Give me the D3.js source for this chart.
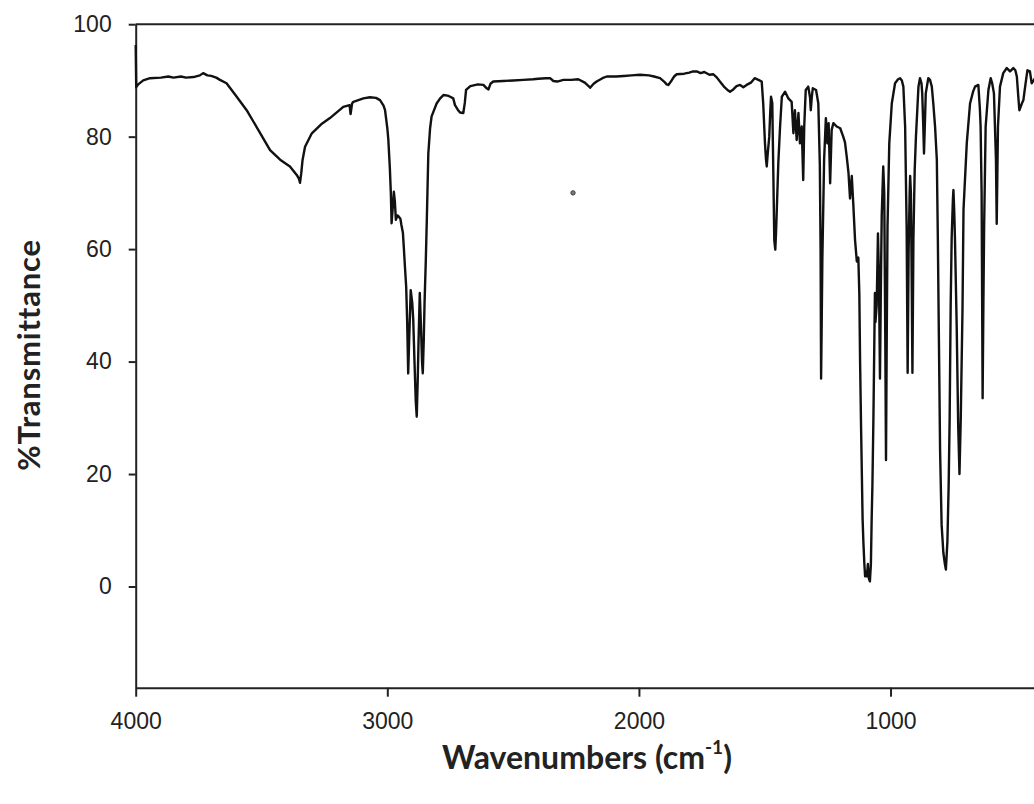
<!DOCTYPE html>
<meta charset="utf-8">
<script src="https://d3js.org/d3.v7.min.js"></script>
<style>
  body { margin: 0; background: #fff; }
</style>
<svg id="chart" width="1034" height="804"></svg>
<script>

  // IR spectrum: wavenumber (cm-1) and %T
  var wavenumber = [
    4000, 3998, 3990, 3970, 3943, 3900, 3870, 3850, 3820, 3800, 3770, 3745, 3732, 3715, 3700, 3680, 3665, 3639,
    3600, 3559, 3510, 3466, 3426, 3387, 3360, 3352, 3347, 3342, 3337, 3327, 3300, 3260, 3228, 3175, 3150, 3146,
    3140, 3135, 3095, 3069, 3045, 3029, 3015, 3009, 3000, 2996, 2990, 2986, 2983, 2979, 2974, 2970, 2966, 2960,
    2955, 2948, 2944, 2938, 2934, 2930, 2925, 2921, 2917, 2913, 2907, 2901, 2897, 2892, 2887, 2883, 2879, 2876,
    2871, 2866, 2862, 2859, 2855, 2852, 2847, 2843, 2837, 2830, 2824, 2804, 2790, 2777, 2760, 2750, 2738, 2731,
    2720, 2711, 2698, 2692, 2687, 2670, 2640, 2618, 2605, 2598, 2590, 2579, 2540, 2500, 2459, 2420, 2400, 2370,
    2353, 2340, 2325, 2300, 2270, 2241, 2215, 2200, 2194, 2180, 2168, 2145, 2128, 2090, 2060, 2030, 1996, 1960,
    1940, 1916, 1900, 1890, 1883, 1870, 1860, 1850, 1820, 1800, 1785, 1770, 1755, 1740, 1720, 1704, 1690, 1678,
    1660, 1645, 1638, 1625, 1612, 1598, 1585, 1572, 1555, 1540, 1525, 1512, 1506, 1499, 1495, 1492, 1488, 1482,
    1478, 1475, 1470, 1466, 1462, 1458, 1455, 1452, 1446, 1439, 1432, 1419, 1406, 1393, 1386, 1380, 1373, 1366,
    1360, 1353, 1347, 1343, 1337, 1327, 1320, 1317, 1313, 1309, 1296, 1287, 1281, 1278, 1276, 1274, 1271, 1264,
    1257, 1251, 1246, 1240, 1234, 1227, 1214, 1200, 1188, 1181, 1174, 1167, 1161, 1154, 1148, 1141, 1134, 1128,
    1124, 1121, 1117, 1114, 1111, 1108, 1104, 1101, 1097, 1094, 1090, 1086, 1082, 1078, 1075, 1072, 1068, 1064,
    1062, 1060, 1055, 1050, 1046, 1042, 1038, 1035, 1029, 1025, 1021, 1018, 1015, 1012, 1005, 995, 982, 970,
    962, 955, 949, 942, 936, 932, 928, 924, 922, 919, 916, 913, 909, 904, 899, 889, 883, 877, 874, 870, 867,
    863, 860, 850, 843, 836, 830, 823, 816, 812, 808, 803, 797, 790, 784, 780, 774, 769, 765, 761, 757, 752,
    750, 747, 744, 737, 731, 726, 721, 714, 710, 697, 684, 672, 664, 651, 645, 642, 638, 634, 631, 628, 622,
    611, 602, 596, 589, 581, 578, 573, 565, 552, 538, 525, 512, 504, 498, 492, 488, 478, 472, 465, 456, 446,
    439, 430, 420, 410, 400
  ];
  var transmittance = [
    96.3, 88.8, 89.3, 90.0, 90.4, 90.5, 90.7, 90.5, 90.7, 90.5, 90.6, 90.9, 91.3, 90.9, 90.8, 90.5, 90.1, 89.5,
    87.2, 84.7, 81.0, 77.6, 75.9, 74.7, 73.2, 72.6, 71.8, 73.5, 75.8, 78.2, 80.6, 82.3, 83.3, 85.3, 85.6, 84.0,
    85.9, 86.2, 86.8, 87.0, 86.9, 86.5, 85.5, 84.7, 81.5, 79.5, 74.5, 70.0, 64.6, 67.0, 70.2, 68.5, 65.2, 66.0,
    65.8, 65.4, 64.3, 62.9, 60.0, 56.9, 53.3, 47.0, 37.9, 44.0, 52.7, 50.5, 47.5, 40.0, 33.0, 30.2, 37.0, 43.3,
    52.2, 46.0, 40.0, 37.9, 44.0, 50.4, 58.0, 65.2, 77.0, 81.5, 83.6, 85.9, 86.8, 87.4, 87.3, 87.1, 86.8, 85.6,
    84.8, 84.3, 84.2, 86.0, 88.3, 89.0, 89.3, 89.2, 88.6, 88.4, 89.4, 89.8, 89.9, 90.0, 90.1, 90.2, 90.3, 90.4,
    90.4, 89.9, 89.8, 90.1, 90.1, 90.2, 89.6, 89.0, 88.7, 89.4, 89.8, 90.4, 90.7, 90.7, 90.8, 90.9, 91.0, 90.9,
    90.7, 90.4, 89.8, 89.3, 89.2, 90.0, 90.7, 91.1, 91.2, 91.4, 91.6, 91.6, 91.3, 91.5, 91.0, 91.1, 90.5, 89.8,
    88.8, 88.2, 88.0, 88.4, 89.0, 89.2, 88.8, 89.2, 89.6, 90.4, 90.1, 89.8, 85.9, 78.8, 76.0, 74.7, 77.0, 80.0,
    84.5, 87.1, 86.0, 74.1, 61.6, 59.9, 63.0, 67.0, 75.3, 81.8, 87.1, 88.0, 86.8, 86.2, 80.6, 84.7, 79.4, 84.2,
    78.8, 81.8, 72.3, 81.8, 88.3, 88.9, 87.0, 84.7, 87.0, 88.6, 88.3, 85.9, 75.0, 60.0, 37.0, 45.0, 58.1, 75.9,
    83.3, 78.8, 82.4, 71.7, 81.2, 82.4, 81.8, 81.5, 80.0, 79.0, 76.4, 73.5, 69.0, 73.0, 68.0, 61.6, 57.8, 58.5,
    52.0, 40.0, 28.0, 20.0, 12.0, 8.0, 4.0, 1.8, 2.6, 1.8, 4.0, 1.4, 0.9, 4.0, 12.0, 18.0, 30.0, 45.0,
    52.2, 47.0, 50.0, 62.8, 55.0, 37.0, 55.0, 66.0, 74.7, 70.0, 45.0, 22.5, 45.0, 64.0, 78.8, 85.9, 89.5, 90.2,
    90.4, 90.0, 88.9, 81.8, 64.0, 38.0, 60.0, 69.9, 73.0, 69.9, 55.0, 38.0, 62.0, 74.0, 80.0, 88.9, 90.4, 89.5, 87.7, 82.0, 77.0,
    83.0, 87.7, 90.4, 90.1, 88.9, 85.9, 81.8, 75.9, 62.0, 45.0, 24.0, 11.0, 6.0, 4.0, 3.0, 8.0, 18.0, 30.0, 50.0, 62.0, 69.0,
    70.5, 67.0, 62.0, 46.2, 28.4, 20.0, 29.6, 49.2, 67.0, 78.8, 85.9, 88.0, 88.9, 89.2, 85.0, 81.8, 69.9, 33.5, 50.0, 64.0, 81.8,
    88.3, 90.4, 89.5, 87.7, 75.9, 64.5, 81.8, 88.9, 91.3, 92.2, 91.6, 92.2, 91.8, 90.7, 87.0, 84.7, 85.9, 86.5, 88.9, 91.8, 91.6,
    89.5, 90.1, 90.8, 90.5, 90.6
  ];

  // a speck on the scan, kept as a point
  var specks = [[2262, 70]];

  var xTicks = [4000, 3000, 2000, 1000];
  var yTicks = [0, 20, 40, 60, 80, 100];

  var svg = d3.select("#chart"),
      width = +svg.attr("width"),
      height = +svg.attr("height");

  var x = d3.scaleLinear().domain([4000, 400]).range([135.7, 1041.5]);
  var y = d3.scaleLinear().domain([-18, 100]).range([687.7, 24.2]);

  var data = wavenumber.map(function(w, i) { return [w, transmittance[i]]; });

  // frame: top line
  svg.append("line")
      .attr("x1", x(4000)).attr("x2", width + 10)
      .attr("y1", y(100)).attr("y2", y(100))
      .style("stroke", "#222").style("stroke-width", 2);

  // x axis
  var gx = svg.append("g")
      .attr("transform", "translate(0," + y(-18) + ")")
      .call(d3.axisBottom(x).tickValues(xTicks).tickFormat(d3.format("d"))
          .tickSize(9).tickPadding(16).tickSizeOuter(0));

  // y axis
  var gy = svg.append("g")
      .attr("transform", "translate(" + x(4000) + ",0)")
      .call(d3.axisLeft(y).tickValues(yTicks).tickFormat(d3.format("d"))
          .tickSize(7).tickPadding(17).tickSizeOuter(0));

  [gx, gy].forEach(function(g) {
    g.select(".domain").style("stroke", "#222").style("stroke-width", 2);
    g.selectAll(".tick line").style("stroke", "#222").style("stroke-width", 2);
    g.selectAll(".tick text")
        .style("font-family", "'Liberation Sans', Arial, sans-serif")
        .style("font-size", "23px")
        .style("fill", "#222");
  });

  // spectrum
  svg.append("path")
      .datum(data)
      .attr("d", d3.line()
          .x(function(d) { return x(d[0]); })
          .y(function(d) { return y(d[1]); }))
      .style("fill", "none")
      .style("stroke", "#111")
      .style("stroke-width", 2.4)
      .style("stroke-linejoin", "round");

  svg.selectAll(".speck")
      .data(specks)
      .enter().append("circle")
        .attr("class", "speck")
        .attr("cx", function(d) { return x(d[0]); })
        .attr("cy", function(d) { return y(d[1]); })
        .attr("r", 2.2)
        .style("fill", "#777")
        .style("stroke", "#444")
        .style("stroke-width", 1);

  // axis titles
  var xt = svg.append("text")
      .attr("x", 587)
      .attr("y", 769)
      .attr("text-anchor", "middle")
      .style("font-family", "Lato, 'Open Sans', sans-serif")
      .style("font-weight", "bold")
      .style("font-size", "32px")
      .style("fill", "#222");
  xt.append("tspan").text("Wavenumbers (cm");
  xt.append("tspan").attr("dy", -15).style("font-size", "19px").text("-1");
  xt.append("tspan").attr("dy", 15).text(")");

  svg.append("text")
      .attr("transform", "translate(40,355) rotate(-90)")
      .attr("text-anchor", "middle")
      .style("font-family", "Lato, 'Open Sans', sans-serif")
      .style("font-weight", "bold")
      .style("font-size", "31px")
      .style("letter-spacing", "0.8px")
      .style("fill", "#222")
      .text("%Transmittance");

</script>
